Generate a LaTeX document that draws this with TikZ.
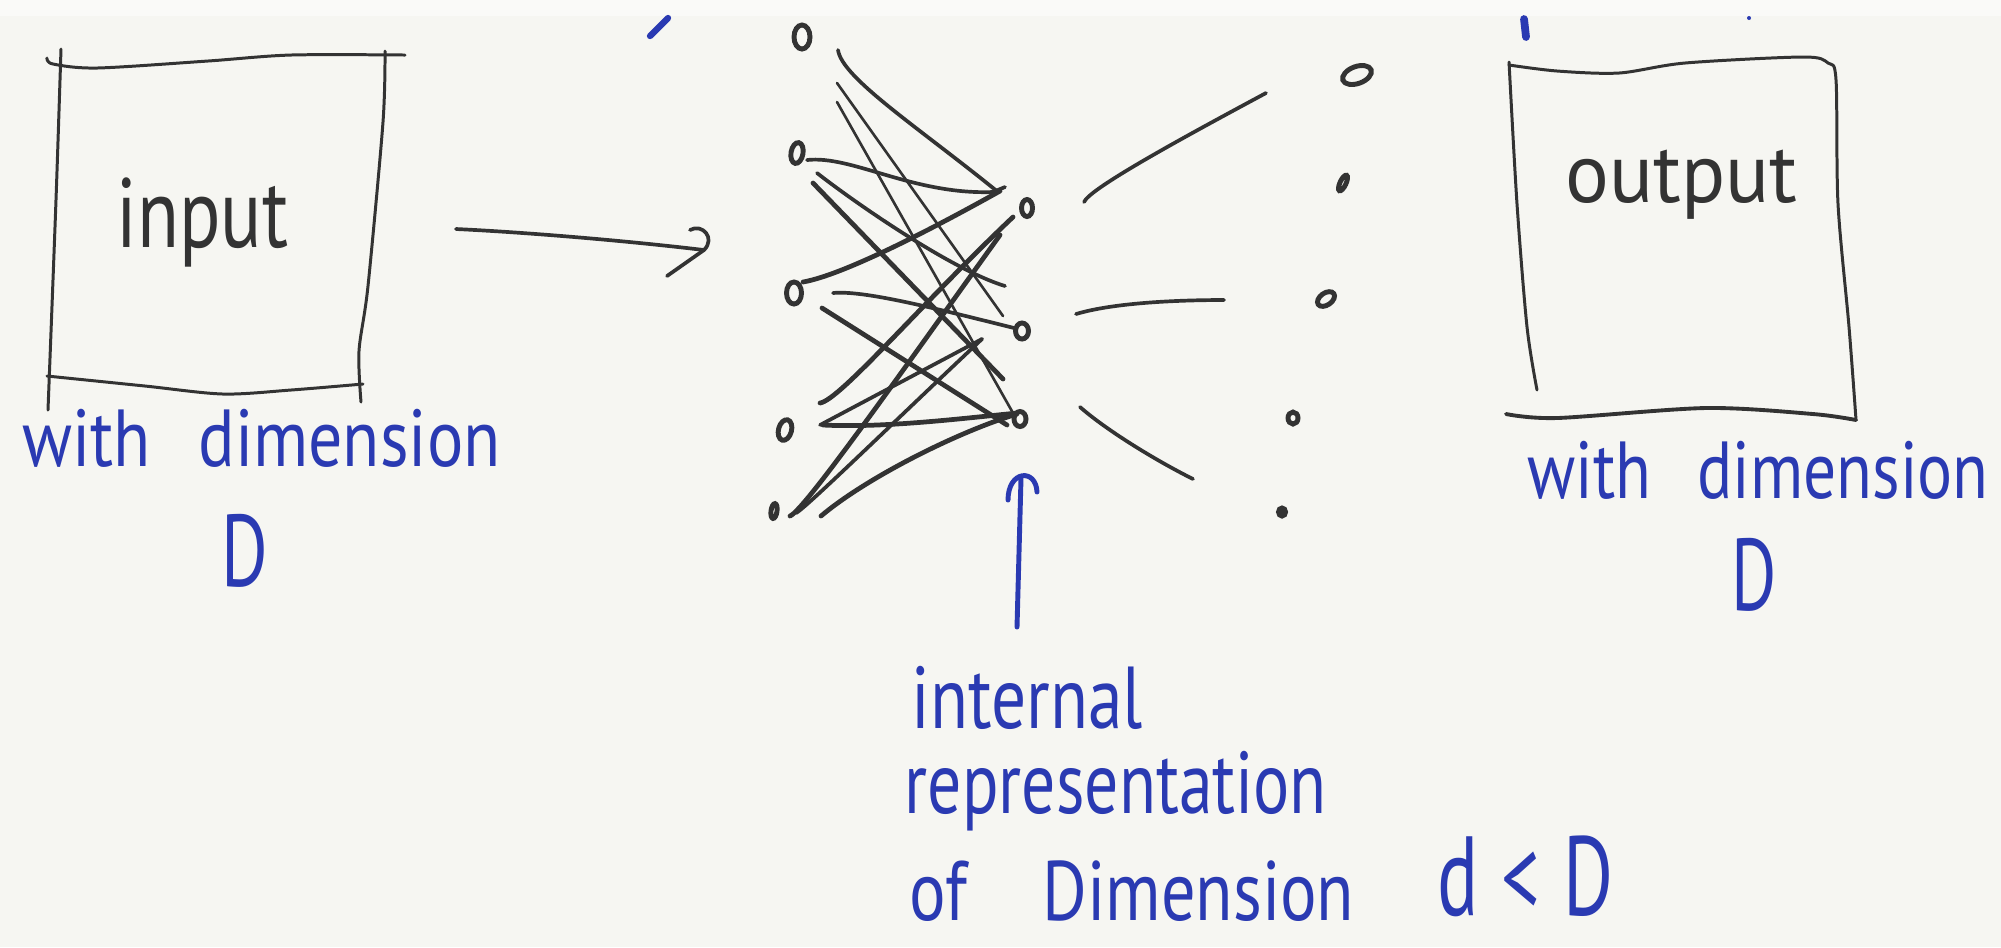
\documentclass[tikz,border=0pt]{standalone}
\usepackage{fontspec}
\setmainfont{PT Sans}
\usepackage{graphicx}
\usetikzlibrary{shapes.geometric}
\definecolor{paper}{HTML}{F6F6F2}
\definecolor{band}{HTML}{FAFAF8}
\definecolor{ink}{HTML}{333333}
\definecolor{blueink}{HTML}{2A3AB2}
\newcommand\handtxt[3]{{\fontsize{#1}{#1}\selectfont\scalebox{#2}[1]{#3}}}
\tikzset{
  pen/.style={draw=ink, line width=0.85pt, line cap=round, line join=round},
  thinpen/.style={draw=ink, line width=0.75pt, line cap=round, line join=round},
  midpen/.style={draw=ink, line width=1.05pt, line cap=round, line join=round},
  thickpen/.style={draw=ink, line width=1.35pt, line cap=round, line join=round},
  bluepen/.style={draw=blueink, line width=1.4pt, line cap=round, line join=round},
  neuron/.style={draw=ink, line width=1.4pt, ellipse, inner sep=0pt},
  bluetext/.style={text=blueink, inner sep=0pt, anchor=base west},
  blacktext/.style={text=ink, inner sep=0pt, anchor=base west},
}
\begin{document}
\begin{tikzpicture}[x=0.01cm, y=-0.01cm]
\useasboundingbox (0,0) rectangle (2001,947);
\fill[paper] (0,0) rectangle (2001,947);
\fill[band] (0,0) rectangle (2001,16);

% ---------- input box ----------
\draw[pen] plot[smooth] coordinates {(47,58) (53,64) (97,68) (208,61) (291,55) (405,55)};
\draw[pen] plot[smooth] coordinates {(61,49) (56,200) (48,410)};
\draw[pen] plot[smooth] coordinates {(385,51) (383,122) (368,286) (359,351) (361,402)};
\draw[pen] plot[smooth] coordinates {(47,376) (145,386) (223,394) (291,390) (363,384)};
\node[blacktext] (intext) at (116,247) {\handtxt{28}{0.78}{input}};

% ---------- arrow ----------
\coordinate (arrS) at (456,229);
\coordinate (arrE) at (704,250);
\draw[midpen] (arrS) .. controls (520,232) and (620,240) .. (arrE);
\draw[midpen] (690,230) .. controls (702,223) and (716,238) .. (arrE) -- (667,276);

% ---------- network ----------
\node[neuron, minimum width=0.16cm, minimum height=0.24cm] (i1) at (802,37) {};
\node[neuron, minimum width=0.12cm, minimum height=0.21cm, rotate=-10] (i2) at (797,153) {};
\node[neuron, minimum width=0.15cm, minimum height=0.22cm] (i3) at (794,293) {};
\node[neuron, minimum width=0.13cm, minimum height=0.21cm, rotate=-15] (i4) at (785,430) {};
\node[neuron, minimum width=0.06cm, minimum height=0.15cm, rotate=-8] (i5) at (774,511) {};

\node[neuron, minimum width=0.11cm, minimum height=0.17cm] (h1) at (1027,208) {};
\node[neuron, minimum width=0.13cm, minimum height=0.16cm] (h2) at (1022,331) {};
\node[neuron, minimum width=0.12cm, minimum height=0.15cm] (h3) at (1020,419) {};

\node[neuron, minimum width=0.30cm, minimum height=0.17cm, rotate=20] (o1) at (1357,75) {};
\node[neuron, minimum width=0.06cm, minimum height=0.17cm, rotate=-25] (o2) at (1343,183) {};
\node[neuron, minimum width=0.19cm, minimum height=0.12cm, rotate=35] (o3) at (1326,299) {};
\node[neuron, minimum width=0.10cm, minimum height=0.12cm] (o4) at (1293,418) {};
\node[neuron, fill=ink, minimum width=0.07cm, minimum height=0.08cm] (o5) at (1282,512) {};

% input -> hidden strokes
\draw[midpen] ([shift={(36,13)}]i1.center) .. controls +(4,28) and +(-80,-65) .. ([shift={(-29,-16)}]h1.center);
\draw[thinpen] ([shift={(35,46)}]i1.center) -- ([shift={(-19,-15)}]h2.center);
\draw[thinpen] ([shift={(35,65)}]i1.center) -- ([shift={(-7,-6)}]h3.center);
\draw[midpen] ([shift={(10,7)}]i2.center) .. controls +(45,-5) and +(-80,3) .. ([shift={(-34,-16)}]h1.center) -- ([shift={(-22,-21)}]h1.center);
\draw[midpen] ([shift={(20,20)}]i2.center) .. controls +(45,35) and +(-50,-15) .. ([shift={(-22,78)}]h1.center);
\draw[thickpen] ([shift={(16,30)}]i2.center) -- ([shift={(-17,-40)}]h3.center);
\draw[thickpen] ([shift={(9,-11)}]i3.center) .. controls +(45,-8) and +(-50,28) .. ([shift={(-27,-17)}]h1.center);
\draw[midpen] ([shift={(39,0)}]i3.center) .. controls +(30,-3) and +(-80,-20) .. ([shift={(-8,-3)}]h2.center);
\draw[thickpen] ([shift={(28,15)}]i3.center) -- ([shift={(-13,6)}]h3.center);
\draw[thickpen] ([shift={(35,-27)}]i4.center) .. controls +(20,-3) and +(-90,85) .. ([shift={(-14,9)}]h1.center);
\draw[midpen] ([shift={(35,-5)}]i4.center) -- ([shift={(-40,8)}]h2.center);
\draw[thickpen] ([shift={(38,-5)}]i4.center) .. controls +(60,3) and +(-60,6) .. ([shift={(-3,-6)}]h3.center);
\draw[thickpen] ([shift={(16,5)}]i5.center) .. controls +(15,-6) and +(-90,125) .. ([shift={(-27,27)}]h1.center);
\draw[midpen] ([shift={(22,2)}]i5.center) .. controls +(10,-5) and +(-80,75) .. ([shift={(-40,8)}]h2.center);
\draw[thickpen] ([shift={(47,5)}]i5.center) .. controls +(45,-38) and +(-60,18) .. ([shift={(-3,-5)}]h3.center);

% hidden -> output strokes
\draw[midpen] ([shift={(57,-6)}]h1.center) .. controls +(6,-14) and +(-80,43) .. ([shift={(-91,18)}]o1.center);
\draw[midpen] ([shift={(54,-17)}]h2.center) .. controls +(40,-12) and +(-40,0) .. ([shift={(-102,1)}]o3.center);
\draw[midpen] ([shift={(60,-12)}]h3.center) .. controls +(25,22) and +(-40,-20) .. ([shift={(-100,61)}]o4.center);

% ---------- output box ----------
\draw[pen] plot[smooth] coordinates {(1509,65) (1557,71) (1619,73) (1685,63) (1803,57) (1828,63) (1836,80) (1838,204) (1849,327) (1856,420)};
\draw[pen] plot[smooth] coordinates {(1509,62) (1517,204) (1527,327) (1537,390)};
\draw[pen, line width=1.1pt] plot[smooth] coordinates {(1506,414) (1557,418) (1706,408) (1813,414) (1856,420)};
\node[blacktext] (outtext) at (1565,202) {\handtxt{24}{0.97}{output}};

% ---------- blue labels ----------
\node[bluetext] (inlabel) at (22,466) {\handtxt{23}{0.84}{with\hspace{0.7em}dimension}};
\node[bluetext, anchor=base] (inD) at (245,586) {\handtxt{29}{0.7}{D}};
\node[bluetext] (outlabel) at (1527,498) {\handtxt{23}{0.81}{with\hspace{0.7em}dimension}};
\node[bluetext, anchor=base] (outD) at (1754,610) {\handtxt{29}{0.68}{D}};

\node[bluetext] (lab1) at (911,728) {\handtxt{25}{0.79}{internal}};
\node[bluetext] (lab2) at (904,813) {\handtxt{25}{0.77}{representation}};
\node[bluetext] (lab3) at (909,920) {\handtxt{24}{0.81}{of\hspace{1.1em}Dimension}};
\node[bluetext] (lab4) at (1437,915) {\handtxt{32}{0.68}{d\hspace{0.3em}<\hspace{0.3em}D}};

\coordinate (ptrS) at (1017,627);
\coordinate (ptrE) at (1021,478);
\draw[bluepen] (ptrS) -- (ptrE);
\draw[bluepen] (1008,500) .. controls (1008,470) and (1036,468) .. (1037,492);

% partial marks at the top edge
\draw[bluepen, line width=1.8pt] (668,18) -- (650,36);
\draw[bluepen, line width=2.2pt] (1524,19) -- (1526,37);
\fill[blueink] (1749,18) circle (2);
\end{tikzpicture}
\end{document}
